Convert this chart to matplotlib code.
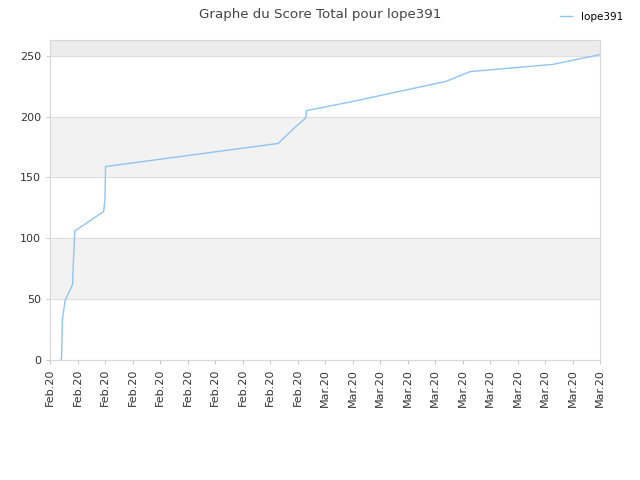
import matplotlib
matplotlib.use("Agg")
import matplotlib.pyplot as plt

# score over time (x in tick units, 0 = first tick)
days = [0.40, 0.42, 0.45, 0.55, 0.82, 0.85, 0.90, 1.95, 2.0, 2.02,
        8.3, 8.85, 9.3, 9.33, 10.9, 14.4, 15.27, 18.3, 20.0]
scores = [0, 2, 33, 49, 62, 80, 106, 122, 132, 159,
          178, 190, 199, 205, 212, 229, 237, 243, 251]
tick_labels = ["Feb.20"] * 10 + ["Mar.20"] * 11

fig = plt.figure(figsize=(6.4, 4.8), dpi=100)
ax = fig.add_axes([50/640, 120/480, 550/640, 320/480])

ymax = 263
for lo in (50, 150):
    ax.axhspan(lo, lo + 50, color="#f2f2f2", zorder=0)
ax.axhspan(250, ymax, color="#ececec", zorder=0)
for y in range(0, 251, 50):
    ax.axhline(y, color="#e0e0e0", lw=0.8, zorder=1)

ax.plot(days, scores, color="#90c4f5", lw=1.0, label="lope391", zorder=2)

ax.set_xlim(0, 20)
ax.set_ylim(0, ymax)
ax.set_xticks(range(len(tick_labels)))
ax.set_xticklabels(tick_labels, rotation=90)
ax.set_yticks(range(0, 251, 50))
ax.tick_params(labelsize=8, colors="#333333", length=3)
ax.tick_params(axis="both", color="#cccccc")
for s in ax.spines.values():
    s.set_color("#d8d8d8")

fig.suptitle("Graphe du Score Total pour lope391", fontsize=9.6, color="#444444", y=0.983)
fig.legend(loc="upper right", bbox_to_anchor=(0.988, 0.995), frameon=False,
           fontsize=7.5, handlelength=1.2)

fig.savefig("out.png", dpi=100)
